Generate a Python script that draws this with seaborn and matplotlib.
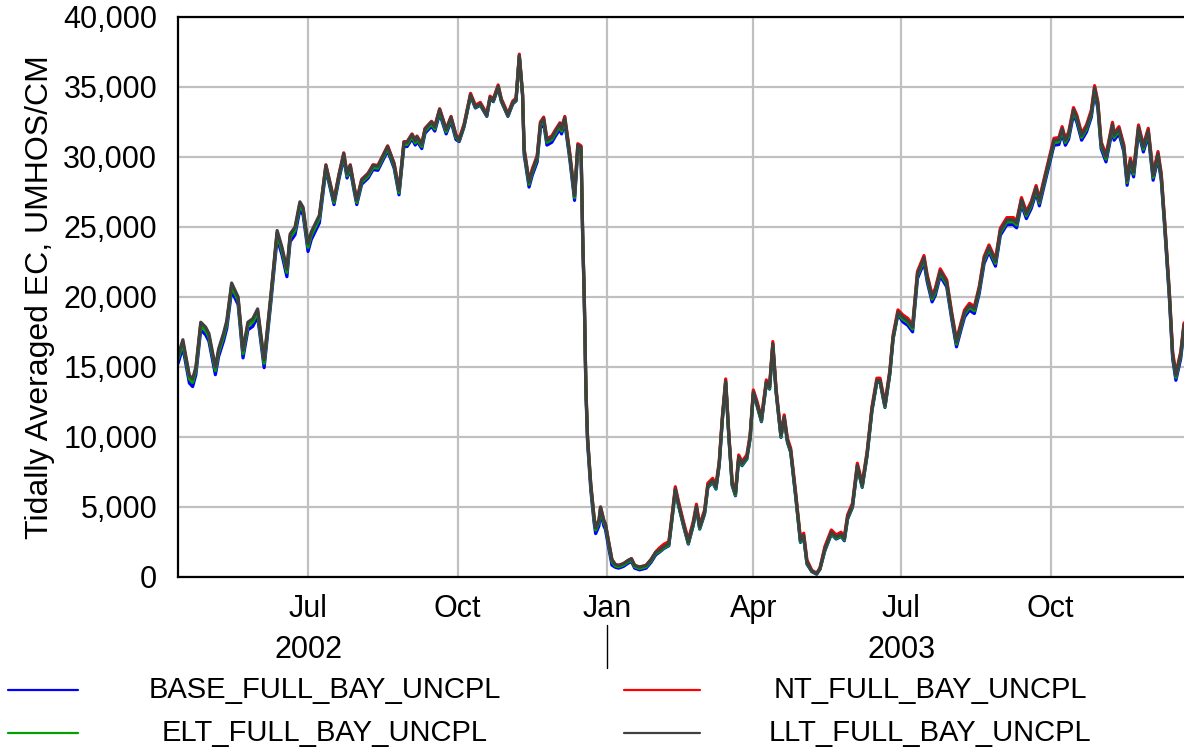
import pandas as pd
import seaborn as sns
import matplotlib.pyplot as plt
import matplotlib.dates as mdates
import matplotlib.ticker as mticker
import matplotlib.transforms as mtransforms
from matplotlib.lines import Line2D

# Sample dates
dates = [
    "2002-04-12", "2002-04-15", "2002-04-16", "2002-04-19", "2002-04-21", "2002-04-23", "2002-04-26", "2002-04-29",
    "2002-05-01", "2002-05-05", "2002-05-07", "2002-05-10", "2002-05-12", "2002-05-15", "2002-05-19", "2002-05-22",
    "2002-05-25", "2002-05-28", "2002-05-31", "2002-06-04", "2002-06-08", "2002-06-12", "2002-06-15", "2002-06-18",
    "2002-06-20", "2002-06-23", "2002-06-26", "2002-06-28", "2002-07-01", "2002-07-03", "2002-07-08",
    "2002-07-12", "2002-07-17", "2002-07-20", "2002-07-23", "2002-07-25", "2002-07-27", "2002-07-29", "2002-07-31",
    "2002-08-03", "2002-08-07", "2002-08-10", "2002-08-13", "2002-08-19", "2002-08-23", "2002-08-26", "2002-08-29",
    "2002-08-31", "2002-09-03", "2002-09-05", "2002-09-06", "2002-09-09", "2002-09-11", "2002-09-15", "2002-09-17",
    "2002-09-20", "2002-09-24", "2002-09-27", "2002-09-30",
    "2002-10-02", "2002-10-05", "2002-10-09", "2002-10-12", "2002-10-15", "2002-10-19", "2002-10-21", "2002-10-23",
    "2002-10-26", "2002-10-28", "2002-11-01", "2002-11-04", "2002-11-06", "2002-11-08", "2002-11-10",
    "2002-11-11", "2002-11-14", "2002-11-16", "2002-11-19", "2002-11-21", "2002-11-23", "2002-11-25", "2002-11-28",
    "2002-11-30", "2002-12-03", "2002-12-04", "2002-12-06", "2002-12-09", "2002-12-12", "2002-12-14", "2002-12-16",
    "2002-12-17", "2002-12-18", "2002-12-19", "2002-12-20", "2002-12-22", "2002-12-24", "2002-12-25", "2002-12-27",
    "2002-12-28", "2002-12-30", "2002-12-31", "2003-01-02", "2003-01-04",
    "2003-01-06", "2003-01-08", "2003-01-11", "2003-01-14", "2003-01-16", "2003-01-18", "2003-01-21", "2003-01-25",
    "2003-01-28", "2003-01-31",
    "2003-02-02", "2003-02-05", "2003-02-08", "2003-02-10", "2003-02-12", "2003-02-14", "2003-02-17", "2003-02-20",
    "2003-02-23", "2003-02-25", "2003-02-27", "2003-03-02", "2003-03-04", "2003-03-07", "2003-03-09", "2003-03-11",
    "2003-03-13", "2003-03-15", "2003-03-17", "2003-03-19", "2003-03-21", "2003-03-23", "2003-03-25", "2003-03-28",
    "2003-03-30", "2003-04-01", "2003-04-03", "2003-04-06", "2003-04-09", "2003-04-11", "2003-04-13", "2003-04-15",
    "2003-04-18", "2003-04-20", "2003-04-22", "2003-04-24", "2003-04-27", "2003-04-30", "2003-05-02", "2003-05-04",
    "2003-05-07", "2003-05-10", "2003-05-12", "2003-05-15", "2003-05-19", "2003-05-22", "2003-05-25", "2003-05-27",
    "2003-05-29", "2003-06-01", "2003-06-04", "2003-06-07", "2003-06-10", "2003-06-13", "2003-06-16", "2003-06-18",
    "2003-06-21", "2003-06-24", "2003-06-26", "2003-06-29",
    "2003-07-02", "2003-07-05", "2003-07-08", "2003-07-11", "2003-07-15", "2003-07-17", "2003-07-20", "2003-07-22",
    "2003-07-25", "2003-07-29", "2003-08-01", "2003-08-04", "2003-08-07", "2003-08-09", "2003-08-12", "2003-08-15",
    "2003-08-18", "2003-08-21", "2003-08-24", "2003-08-28", "2003-08-31", "2003-09-04", "2003-09-08", "2003-09-10",
    "2003-09-13", "2003-09-16", "2003-09-19", "2003-09-22", "2003-09-24", "2003-09-27", "2003-09-30", "2003-10-03",
    "2003-10-06", "2003-10-08", "2003-10-10", "2003-10-12", "2003-10-15", "2003-10-17", "2003-10-20", "2003-10-23",
    "2003-10-26", "2003-10-28", "2003-10-30", "2003-11-01", "2003-11-04", "2003-11-08", "2003-11-09", "2003-11-12",
    "2003-11-15", "2003-11-17", "2003-11-19", "2003-11-21", "2003-11-24", "2003-11-27", "2003-11-30", "2003-12-03",
    "2003-12-06", "2003-12-08", "2003-12-10", "2003-12-13", "2003-12-15", "2003-12-17", "2003-12-20", "2003-12-22",
]

# Tidally averaged EC, one list per run
llt = [
    15800, 16950, 16300, 14400, 14150, 15000, 18200, 17850,
    17400, 15000, 16300, 17400, 18300, 21000, 20000, 16200,
    18200, 18450, 19150, 15500, 20000, 24750, 23550, 22000,
    24500, 25000, 26800, 26400, 23800, 24650, 25850,
    29400, 26900, 28700, 30250, 28800, 29400, 28100, 26900,
    28350, 28800, 29400, 29350, 30750, 29500, 27600, 31050,
    31050, 31600, 31150, 31450, 30900, 32000, 32500, 32150,
    33400, 31950, 32850, 31550,
    31200, 32250, 34450, 33600, 33800, 33000, 34250, 34050,
    35050, 34050, 33000, 33900, 34100, 37250, 34500,
    30500, 28200, 29050, 30000, 32400, 32750, 31200, 31400,
    31800, 32350, 32000, 32800, 30250, 27250, 30850, 30700,
    24500, 20000, 13500, 10000, 6600, 4300, 3500, 4050,
    5000, 4050, 3800, 2500, 1250,
    900, 830, 950, 1190, 1310, 830, 710, 830,
    1240, 1790,
    1900, 2190, 2380, 4290, 6300, 5240, 3810, 2500,
    3810, 5050, 3570, 4640, 6550, 6900, 6430, 8100,
    11430, 14000, 10000, 6670, 5950, 8570, 8100, 8570,
    10000, 13210, 12500, 11240, 13930, 13570, 16670, 13330,
    10120, 11430, 9760, 9050, 5950, 2620, 2980, 1070,
    430, 240, 600, 2020, 3210, 2860, 3050, 2740,
    4290, 5120, 7980, 6550, 8810, 12020, 14050, 14050,
    12260, 14640, 17140, 18930,
    18570, 18330, 17860, 21670, 22810, 21430, 20000, 20480,
    21860, 21070, 18810, 16790, 18100, 18930, 19400, 19170,
    20600, 22740, 23570, 22550, 24760, 25520, 25520, 25290,
    26950, 25950, 26670, 27810, 26860, 28330, 29760, 31190,
    31240, 32020, 31190, 31620, 33380, 32860, 31550, 32140,
    33210, 34950, 33810, 30950, 30000, 32330, 31550, 32020,
    30710, 28330, 29760, 28930, 32140, 30710, 31900, 28690,
    30240, 28690, 25480, 20240, 15950, 14400, 15950, 18000,
]

base = [
    15250, 16400, 15750, 13850, 13600, 14450, 17650, 17300,
    16850, 14450, 15750, 16850, 17750, 20450, 19450, 15650,
    17650, 17900, 18600, 14950, 19450, 24200, 23000, 21450,
    23950, 24450, 26250, 25850, 23250, 24100, 25300,
    29100, 26600, 28400, 29950, 28500, 29100, 27800, 26600,
    28050, 28500, 29100, 29050, 30450, 29200, 27300, 30750,
    30750, 31300, 30850, 31150, 30600, 31700, 32200, 31850,
    33100, 31650, 32550, 31250,
    31100, 32150, 34350, 33500, 33700, 32900, 34150, 33950,
    34950, 33950, 32900, 33800, 34000, 37150, 34400,
    30150, 27850, 28700, 29650, 32050, 32400, 30850, 31050,
    31450, 32000, 31650, 32450, 29900, 26900, 30500, 30350,
    24100, 19600, 13100, 9600, 6200, 3900, 3100, 3650,
    4600, 3650, 3400, 2100, 850,
    700, 630, 750, 990, 1110, 630, 510, 630,
    1040, 1590,
    1750, 2040, 2230, 4140, 6150, 5090, 3660, 2350,
    3660, 4900, 3420, 4490, 6400, 6750, 6280, 7950,
    11280, 13850, 9850, 6520, 5800, 8420, 7950, 8420,
    9850, 13060, 12350, 11090, 13780, 13420, 16520, 13180,
    9970, 11280, 9610, 8900, 5800, 2470, 2830, 920,
    380, 200, 550, 1870, 3060, 2710, 2900, 2590,
    4140, 4970, 7830, 6400, 8660, 11870, 13900, 13900,
    12110, 14490, 16990, 18780,
    18220, 17980, 17510, 21320, 22460, 21080, 19650, 20130,
    21510, 20720, 18460, 16440, 17750, 18580, 19050, 18820,
    20250, 22390, 23220, 22200, 24410, 25170, 25170, 24940,
    26600, 25600, 26320, 27460, 26510, 27980, 29410, 30840,
    30890, 31670, 30840, 31270, 33030, 32510, 31200, 31790,
    32860, 34600, 33460, 30600, 29650, 31980, 31200, 31670,
    30360, 27980, 29410, 28580, 31790, 30360, 31550, 28340,
    29890, 28340, 25130, 19890, 15600, 14050, 15600, 17650,
]

nt = [
    15650, 16800, 16150, 14250, 14000, 14850, 18050, 17700,
    17250, 14850, 16150, 17250, 18150, 20850, 19850, 16050,
    18050, 18300, 19000, 15350, 19850, 24600, 23400, 21850,
    24350, 24850, 26650, 26250, 23650, 24500, 25700,
    29450, 26950, 28750, 30300, 28850, 29450, 28150, 26950,
    28400, 28850, 29450, 29400, 30800, 29550, 27650, 31100,
    31100, 31650, 31200, 31500, 30950, 32050, 32550, 32200,
    33450, 32000, 32900, 31600,
    31300, 32350, 34550, 33700, 33900, 33100, 34350, 34150,
    35150, 34150, 33100, 34000, 34200, 37350, 34600,
    30600, 28300, 29150, 30100, 32500, 32850, 31300, 31500,
    31900, 32450, 32100, 32900, 30350, 27350, 30950, 30800,
    24500, 20000, 13500, 10000, 6600, 4300, 3500, 4050,
    5000, 4050, 3800, 2500, 1250,
    900, 830, 950, 1190, 1310, 830, 710, 830,
    1240, 1790,
    2050, 2340, 2530, 4440, 6450, 5390, 3960, 2650,
    3960, 5200, 3720, 4790, 6700, 7050, 6580, 8250,
    11580, 14150, 10150, 6820, 6100, 8720, 8250, 8720,
    10150, 13360, 12650, 11390, 14080, 13720, 16820, 13480,
    10270, 11580, 9910, 9200, 6100, 2770, 3130, 1220,
    480, 280, 650, 2170, 3360, 3010, 3200, 2890,
    4440, 5270, 8130, 6700, 8960, 12170, 14200, 14200,
    12410, 14790, 17290, 19080,
    18720, 18480, 18010, 21820, 22960, 21580, 20150, 20630,
    22010, 21220, 18960, 16940, 18250, 19080, 19550, 19320,
    20750, 22890, 23720, 22700, 24910, 25670, 25670, 25440,
    27100, 26100, 26820, 27960, 27010, 28480, 29910, 31340,
    31390, 32170, 31340, 31770, 33530, 33010, 31700, 32290,
    33360, 35100, 33960, 31100, 30150, 32480, 31700, 32170,
    30860, 28480, 29910, 29080, 32290, 30860, 32050, 28840,
    30390, 28840, 25630, 20390, 16100, 14550, 16100, 18150,
]

elt = [
    15550, 16700, 16050, 14150, 13900, 14750, 17950, 17600,
    17150, 14750, 16050, 17150, 18050, 20750, 19750, 15950,
    17950, 18200, 18900, 15250, 19750, 24500, 23300, 21750,
    24250, 24750, 26550, 26150, 23550, 24400, 25600,
    29250, 26750, 28550, 30100, 28650, 29250, 27950, 26750,
    28200, 28650, 29250, 29200, 30600, 29350, 27450, 30900,
    30900, 31450, 31000, 31300, 30750, 31850, 32350, 32000,
    33250, 31800, 32700, 31400,
    31150, 32200, 34400, 33550, 33750, 32950, 34200, 34000,
    35000, 34000, 32950, 33850, 34050, 37200, 34450,
    30350, 28050, 28900, 29850, 32250, 32600, 31050, 31250,
    31650, 32200, 31850, 32650, 30100, 27100, 30700, 30550,
    24350, 19850, 13350, 9850, 6450, 4150, 3350, 3900,
    4850, 3900, 3650, 2350, 1100,
    800, 730, 850, 1090, 1210, 730, 610, 730,
    1140, 1690,
    1800, 2090, 2280, 4190, 6200, 5140, 3710, 2400,
    3710, 4950, 3470, 4540, 6450, 6800, 6330, 8000,
    11330, 13900, 9900, 6570, 5850, 8470, 8000, 8470,
    9900, 13110, 12400, 11140, 13830, 13470, 16570, 13230,
    10020, 11330, 9660, 8950, 5850, 2520, 2880, 970,
    400, 220, 570, 1920, 3110, 2760, 2950, 2640,
    4190, 5020, 7880, 6450, 8710, 11920, 13950, 13950,
    12160, 14540, 17040, 18830,
    18420, 18180, 17710, 21520, 22660, 21280, 19850, 20330,
    21710, 20920, 18660, 16640, 17950, 18780, 19250, 19020,
    20450, 22590, 23420, 22400, 24610, 25370, 25370, 25140,
    26800, 25800, 26520, 27660, 26710, 28180, 29610, 31040,
    31090, 31870, 31040, 31470, 33230, 32710, 31400, 31990,
    33060, 34800, 33660, 30800, 29850, 32180, 31400, 31870,
    30560, 28180, 29610, 28780, 31990, 30560, 31750, 28540,
    30090, 28540, 25330, 20090, 15800, 14250, 15800, 17850,
]

runs = ["BASE_FULL_BAY_UNCPL", "NT_FULL_BAY_UNCPL", "ELT_FULL_BAY_UNCPL", "LLT_FULL_BAY_UNCPL"]
run_colors = {"BASE_FULL_BAY_UNCPL": "#0000ff", "NT_FULL_BAY_UNCPL": "#ff0000",
              "ELT_FULL_BAY_UNCPL": "#00a000", "LLT_FULL_BAY_UNCPL": "#404040"}

df = pd.DataFrame({
    "date": pd.to_datetime(dates * 4),
    "ec": base + nt + elt + llt,
    "run": [r for r in runs for _ in dates],
})

sns.set_style("white")
plt.rcParams["font.family"] = ["Liberation Sans", "DejaVu Sans"]
plt.rcParams["text.color"] = "black"
plt.rcParams["axes.labelcolor"] = "black"
plt.rcParams["xtick.color"] = "black"
plt.rcParams["ytick.color"] = "black"

fig = plt.figure(figsize=(11.84, 7.48), dpi=100)
ax = fig.add_axes([178 / 1184, 1 - 577 / 748, 1006 / 1184, 560 / 748])

sns.lineplot(data=df, x="date", y="ec", hue="run", hue_order=runs, palette=run_colors,
             linewidth=2.3, legend=False, ax=ax)

# axes
ax.set_xlim(pd.Timestamp("2002-04-12"), pd.Timestamp("2003-12-22"))
ax.set_ylim(0, 40000)
ax.yaxis.set_major_locator(mticker.MultipleLocator(5000))
ax.yaxis.set_major_formatter(mticker.StrMethodFormatter("{x:,.0f}"))
ax.xaxis.set_major_locator(mdates.MonthLocator(bymonth=[1, 4, 7, 10]))
ax.xaxis.set_major_formatter(mdates.DateFormatter("%b"))
ax.set_xlabel("")
ax.set_ylabel("Tidally Averaged EC, UMHOS/CM", fontsize=23)
ax.yaxis.set_label_coords(-0.122, 0.5)

ax.grid(True, color="#c0c0c0", linewidth=1.6)
ax.set_axisbelow(True)
for side in ["left", "top", "bottom"]:
    ax.spines[side].set_visible(True)
    ax.spines[side].set_color("black")
    ax.spines[side].set_linewidth(1.6)
ax.spines["right"].set_visible(False)
ax.tick_params(axis="y", direction="out", length=5, width=1.2, color="black", pad=10, labelsize=22)
ax.tick_params(axis="x", direction="out", length=4, width=1.2, color="black", pad=8, labelsize=22)

# year labels and separator
trans = mtransforms.blended_transform_factory(ax.transData, ax.transAxes)
ax.text(pd.Timestamp("2002-07-01"), -0.13, "2002", transform=trans, ha="center", va="center", fontsize=22)
ax.text(pd.Timestamp("2003-07-01"), -0.13, "2003", transform=trans, ha="center", va="center", fontsize=22)
ax.plot([pd.Timestamp("2003-01-01")] * 2, [-0.086, -0.163], transform=trans, color="black",
        linewidth=1, clip_on=False)

# legend below the chart
legend_items = [
    ("BASE_FULL_BAY_UNCPL", 8, 78, 325, 690),
    ("NT_FULL_BAY_UNCPL", 624, 700, 930, 690),
    ("ELT_FULL_BAY_UNCPL", 8, 78, 325, 733),
    ("LLT_FULL_BAY_UNCPL", 624, 700, 930, 733),
]
for name, x0, x1, xt, yp in legend_items:
    yf = 1 - yp / 748
    fig.add_artist(Line2D([x0 / 1184, x1 / 1184], [yf, yf], color=run_colors[name], linewidth=1.6))
    fig.text(xt / 1184, yf, name, ha="center", va="center", fontsize=21)

fig.savefig("out.png", dpi=100)
